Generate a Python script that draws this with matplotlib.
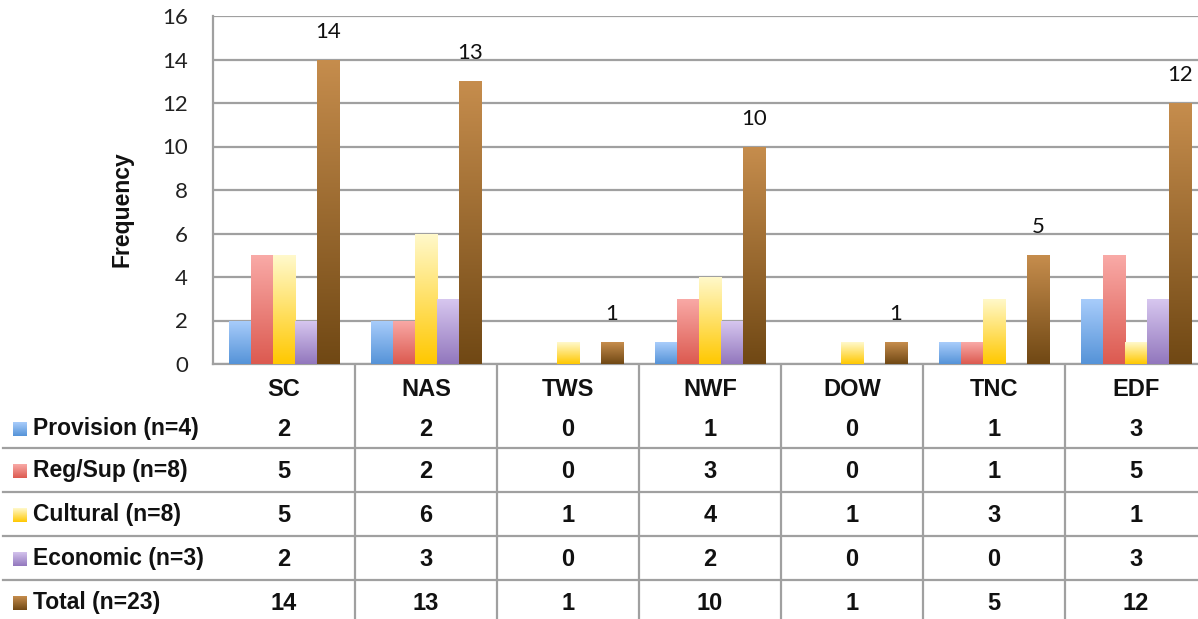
import numpy as np
import matplotlib
matplotlib.use("Agg")
import matplotlib.pyplot as plt
from matplotlib.colors import LinearSegmentedColormap
from matplotlib.transforms import blended_transform_factory
from matplotlib.lines import Line2D

categories = ["SC", "NAS", "TWS", "NWF", "DOW", "TNC", "EDF"]
series_names = ["Provision (n=4)", "Reg/Sup (n=8)", "Cultural (n=8)", "Economic (n=3)", "Total (n=23)"]
provision = [2, 2, 0, 1, 0, 1, 3]
regsup = [5, 2, 0, 3, 0, 1, 5]
cultural = [5, 6, 1, 4, 1, 3, 1]
economic = [2, 3, 0, 2, 0, 0, 3]
total = [14, 13, 1, 10, 1, 5, 12]
yticks = [0, 2, 4, 6, 8, 10, 12, 14, 16]

series = [provision, regsup, cultural, economic, total]
grads = [("#a9cdfb", "#5593d8"), ("#f9aaa7", "#dc5a50"), ("#fff9cc", "#ffc800"),
         ("#d8c8f0", "#9277bd"), ("#c68d4d", "#704814")]

plt.rcParams['font.family'] = ['Lato', 'DejaVu Sans']
BOLD = ['Liberation Sans', 'DejaVu Sans']
W, H = 1198, 619
fig = plt.figure(figsize=(W / 100, H / 100), dpi=100)

def fx(px):
    return px / W

def fy(py):
    return 1 - py / H

ax_left, ax_right, ax_top, ax_bot = 213, 1207, 16, 364
ax = fig.add_axes([fx(ax_left), fy(ax_bot), (ax_right - ax_left) / W, (ax_bot - ax_top) / H])
ax.set_xlim(-0.5, len(categories) - 0.5)
ax.set_ylim(0, 16)
ax.set_yticks(yticks)
ax.set_yticklabels([str(t) for t in yticks], fontsize=16, color="#222222")
ax.tick_params(axis="y", length=0, pad=18)
ax.set_xticks([])
for s in ["top", "right"]:
    ax.spines[s].set_visible(False)
for s in ["left", "bottom"]:
    ax.spines[s].set_color("#a0a0a0")
    ax.spines[s].set_linewidth(1.6)
ax.grid(axis="y", color="#a0a0a0", linewidth=1.6)
ax.set_axisbelow(True)
fig.text(fx(122), fy(209), "Frequency", rotation=90, ha="center", va="center",
         fontsize=16.5, fontweight="bold", family=BOLD, color="#111111")

x = np.arange(len(categories))
bw = 0.155
grad_img = np.linspace(1, 0, 256).reshape(-1, 1)
for i, (vals, (ctop, cbot)) in enumerate(zip(series, grads)):
    cmap = LinearSegmentedColormap.from_list(f"g{i}", [cbot, ctop])
    bars = ax.bar(x + (i - 2) * bw, vals, bw, facecolor="none", edgecolor="none", zorder=3)
    for b in bars:
        h = b.get_height()
        if h <= 0:
            continue
        x0 = b.get_x()
        im = ax.imshow(grad_img, cmap=cmap, aspect="auto", extent=[x0, x0 + b.get_width(), 0, h],
                       origin="upper", zorder=3, vmin=0, vmax=1)
        im.set_clip_path(b)
    if i == 4:
        for b, v in zip(bars, vals):
            ax.annotate(str(v), (b.get_x() + b.get_width() / 2, v), xytext=(0, 20),
                        textcoords="offset points", ha="center", va="center",
                        fontsize=16, color="#111111")
ax.set_xlim(-0.5, len(categories) - 0.5)
ax.set_ylim(0, 16)

# data table
tr = blended_transform_factory(ax.transData, fig.transFigure)
line_c = "#a0a0a0"
for k in range(len(categories) - 1):
    fig.add_artist(Line2D([k + 0.5, k + 0.5], [fy(365), fy(619)], transform=tr,
                          color=line_c, linewidth=1.6))
for ly in [448, 492, 536, 580]:
    fig.add_artist(Line2D([fx(3), 1.0], [fy(ly), fy(ly)], transform=fig.transFigure,
                          color=line_c, linewidth=1.6))

header_y = 389
row_y = [429, 471, 515, 559, 603]
for j, c in enumerate(categories):
    fig.text(j, fy(header_y), c, transform=tr, ha="center", va="center",
             fontsize=17, fontweight="bold", family=BOLD, color="#111111")
for r, (name, vals, (ctop, cbot)) in enumerate(zip(series_names, series, grads)):
    yc = row_y[r]
    cmap = LinearSegmentedColormap.from_list(f"s{r}", [cbot, ctop])
    sax = fig.add_axes([fx(13), fy(yc + 7), fx(14), 14 / H])
    sax.imshow(grad_img, cmap=cmap, aspect="auto", vmin=0, vmax=1)
    sax.axis("off")
    fig.text(fx(33), fy(yc), name, ha="left", va="center", fontsize=16.5,
             fontweight="bold", family=BOLD, color="#111111")
    for j, v in enumerate(vals):
        fig.text(j, fy(yc), str(v), transform=tr, ha="center", va="center",
                 fontsize=17, fontweight="bold", family=BOLD, color="#111111")

fig.savefig("out.png", dpi=100)
